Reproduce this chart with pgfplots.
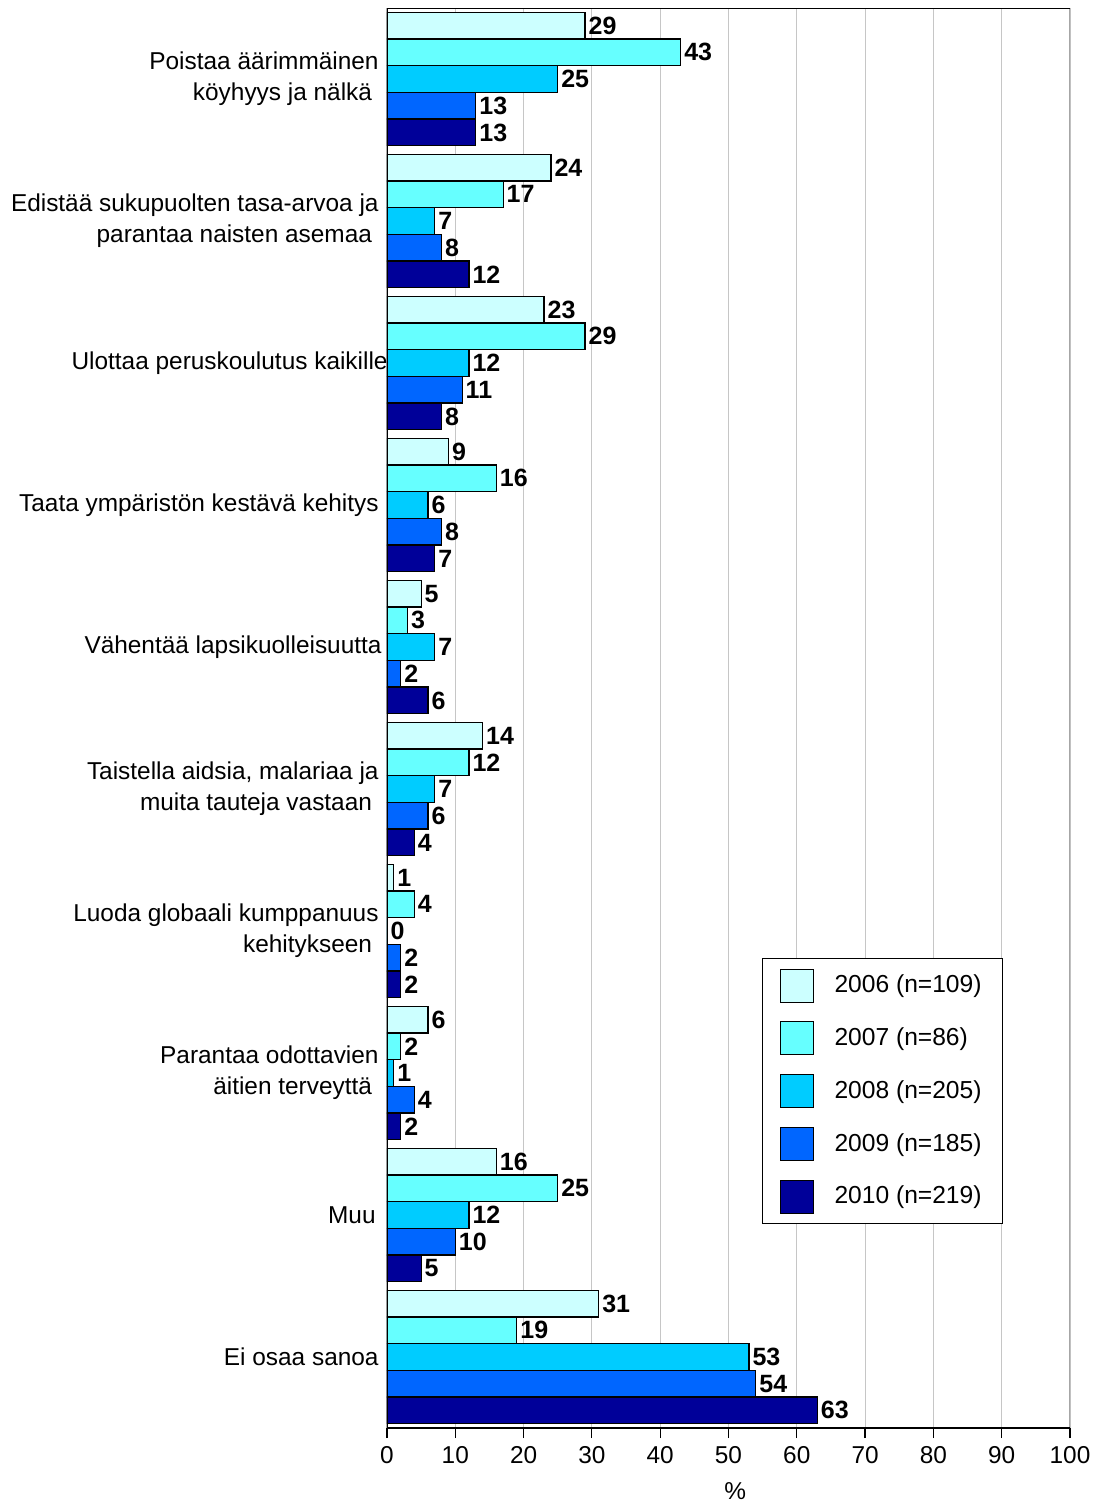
\documentclass[border=0pt]{standalone}
\usepackage{pgfplots}
\pgfplotsset{compat=1.18}
\usepackage{fontspec}
\setmainfont{Liberation Sans}
\definecolor{cA}{HTML}{CCFFFF}
\definecolor{cB}{HTML}{66FFFF}
\definecolor{cC}{HTML}{00CCFF}
\definecolor{cD}{HTML}{0066FF}
\definecolor{cE}{HTML}{000099}
\begin{document}
\fontsize{12}{15.5}\selectfont
\begin{tikzpicture}
\begin{axis}[
  at={(0,0)}, anchor=south west,
  scale only axis, width=341.5pt, height=710pt,
  xmin=0, xmax=100, ymin=-0.5, ymax=9.5, y dir=reverse,
  xbar, bar width=0.188,
  xtick={0,10,...,100}, xtick pos=bottom, tick align=outside,
  major tick length=5pt,
  xtick style={black, line width=0.6pt},
  ytick={0,...,9}, ytick style={draw=none},
  yticklabels={
    {Poistaa äärimmäinen\\köyhyys ja nälkä\kern3.3pt},
    {Edistää sukupuolten tasa-arvoa ja\\parantaa naisten asemaa\kern3.3pt},
    {Ulottaa peruskoulutus kaikille\kern-4.5pt},
    {Taata ympäristön kestävä kehitys},
    {Vähentää lapsikuolleisuutta\kern-1.5pt},
    {Taistella aidsia, malariaa ja\\muita tauteja vastaan\kern3.3pt},
    {Luoda globaali kumppanuus\\kehitykseen\kern3.3pt},
    {Parantaa odottavien\\äitien terveyttä\kern3.3pt},
    {Muu\kern1.5pt},
    {Ei osaa sanoa}},
  yticklabel style={align=right, inner sep=0pt, xshift=1pt, font=\fontsize{12.2}{15.5}\selectfont},
  xticklabel style={font=\fontsize{12.2}{14}\selectfont},
  /pgf/number format/assume math mode=true,
  xlabel={\%},
  xlabel style={at={(axis description cs:0.51,0)}, anchor=center, yshift=-31.5pt, font=\fontsize{12.2}{14}\selectfont},
  axis line style={draw=none},
  xmajorgrids, grid style={gray!45, line width=0.5pt},
  nodes near coords, nodes near coords align={horizontal},
  every node near coord/.append style={font=\bfseries\fontsize{12.5}{14}\selectfont, anchor=west, inner sep=1.5pt, black},
  legend style={at={(axis description cs:0.549,0.331)}, anchor=north west,
    draw=black, line width=0.6pt, fill=white, font=\fontsize{12.3}{14}\selectfont,
    inner xsep=8.5pt, inner ysep=5pt, row sep=9.4pt, column sep=8.5pt,
    nodes={inner sep=2pt}},
  legend cell align=left,
  legend image code/.code={\draw[#1, line width=0.5pt] (0pt,-8.25pt) rectangle (16.5pt,8.25pt);},
]
\addplot[fill=cA, draw=black, line width=0.6pt, bar shift=-0.376] coordinates {(29,0) (24,1) (23,2) (9,3) (5,4) (14,5) (1,6) (6,7) (16,8) (31,9)};
\addplot[fill=cB, draw=black, line width=0.6pt, bar shift=-0.188] coordinates {(43,0) (17,1) (29,2) (16,3) (3,4) (12,5) (4,6) (2,7) (25,8) (19,9)};
\addplot[fill=cC, draw=black, line width=0.6pt, bar shift=0] coordinates {(25,0) (7,1) (12,2) (6,3) (7,4) (7,5) (0,6) (1,7) (12,8) (53,9)};
\addplot[fill=cD, draw=black, line width=0.6pt, bar shift=0.188] coordinates {(13,0) (8,1) (11,2) (8,3) (2,4) (6,5) (2,6) (4,7) (10,8) (54,9)};
\addplot[fill=cE, draw=black, line width=0.6pt, bar shift=0.376] coordinates {(13,0) (12,1) (8,2) (7,3) (6,4) (4,5) (2,6) (2,7) (5,8) (63,9)};
\legend{2006 (n=109), 2007 (n=86), 2008 (n=205), 2009 (n=185), 2010 (n=219)}
\draw[gray!70, line width=0.8pt] (rel axis cs:1,0) -- (rel axis cs:1,1);
\draw[black, line width=1pt] (rel axis cs:0,1) -- (rel axis cs:1,1);
\draw[black, line width=1pt] (rel axis cs:0,0) -- (rel axis cs:1,0);
\draw[black, line width=1pt] (rel axis cs:0,0) -- (rel axis cs:0,1);
\end{axis}
\pgfresetboundingbox
\path (-193.5pt,-38.5pt) rectangle (354pt,714pt);
\end{tikzpicture}
\end{document}
